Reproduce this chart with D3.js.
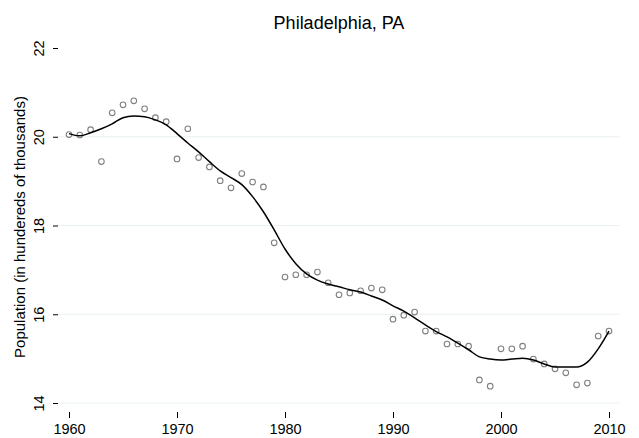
<!DOCTYPE html>
<html><head><meta charset="utf-8">
<script src="https://cdn.jsdelivr.net/npm/d3@7"></script>
<style>body{margin:0;background:#fff}svg{display:block}text{font-family:"Liberation Sans",Arial,Helvetica,sans-serif}</style>
</head><body>
<script>
const years = d3.range(1960, 2011);
const population = [20.05,20.04,20.16,19.44,20.54,20.72,20.81,20.63,20.43,20.34,
  19.50,20.18,19.53,19.32,19.01,18.85,19.17,18.98,18.87,17.61,
  16.84,16.89,16.89,16.95,16.71,16.44,16.48,16.53,16.59,16.55,
  15.89,15.98,16.05,15.62,15.62,15.33,15.33,15.28,14.52,14.38,
  15.22,15.22,15.28,14.99,14.88,14.77,14.68,14.41,14.45,15.51,15.62];
const smooth = [20.07,20.02,20.09,20.18,20.29,20.43,20.47,20.45,20.38,20.27,
  20.07,19.86,19.66,19.44,19.23,19.08,18.92,18.65,18.31,17.90,
  17.47,17.14,16.91,16.77,16.68,16.62,16.55,16.50,16.41,16.32,
  16.19,16.07,15.92,15.76,15.61,15.49,15.35,15.20,15.04,14.99,
  14.97,14.99,15.01,14.97,14.88,14.81,14.81,14.81,14.92,15.22,15.62];
const xTicks = [1960,1970,1980,1990,2000,2010];
const yTicks = [14,16,18,20,22];
const gridTicks = [14,16,18,20];
const title = "Philadelphia, PA";
const yTitle = "Population (in hundereds of thousands)";

const W = 639, H = 438;
const svg = d3.select("body").append("svg").attr("width", W).attr("height", H);
const x = d3.scaleLinear().domain([1960, 2010]).range([69, 609]);
const y = d3.scaleLinear().domain([14, 22]).range([403, 48]);
const plotL = 58, plotR = 620;

svg.append("g").selectAll("line").data(gridTicks).join("line")
  .attr("x1", plotL).attr("x2", plotR)
  .attr("y1", d => y(d)).attr("y2", d => y(d))
  .attr("stroke", "#eaf2f3").attr("stroke-width", 1);

// y axis
const yAxis = svg.append("g").attr("transform", `translate(${plotL},0)`)
  .call(d3.axisLeft(y).tickValues(yTicks).tickSize(5).tickPadding(0).tickFormat(d3.format("d")));
yAxis.select(".domain").remove();
yAxis.selectAll(".tick line").attr("stroke", "#000");
yAxis.selectAll(".tick text").attr("font-size", 14.5).attr("fill", "#000")
  .attr("text-anchor", "middle").attr("x", 0).attr("dy", 0)
  .attr("transform", "translate(-14,0) rotate(-90)");

// x axis
const xAxis = svg.append("g").attr("transform", `translate(0,412)`)
  .call(d3.axisBottom(x).tickValues(xTicks).tickSize(6).tickPadding(6).tickFormat(d3.format("d")));
xAxis.select(".domain").remove();
xAxis.selectAll(".tick line").attr("stroke", "#000");
xAxis.selectAll(".tick text").attr("font-size", 14.5).attr("fill", "#000");

// points
svg.append("g").selectAll("circle").data(years).join("circle")
  .attr("cx", (d) => x(d)).attr("cy", (d, i) => y(population[i])).attr("r", 2.8)
  .attr("fill", "none").attr("stroke", "#808080").attr("stroke-width", 1.1);

// smooth line
const line = d3.line().x(d => x(d)).y((d, i) => y(smooth[i])).curve(d3.curveMonotoneX);
svg.append("path").datum(years).attr("d", line)
  .attr("fill", "none").attr("stroke", "#000").attr("stroke-width", 1.5);

svg.append("text").attr("x", 339).attr("y", 29).attr("text-anchor", "middle")
  .attr("font-size", 18).attr("fill", "#000").text(title);
svg.append("text").attr("transform", "translate(25,227) rotate(-90)")
  .attr("text-anchor", "middle").attr("font-size", 15).attr("fill", "#000").text(yTitle);
</script>
</body></html>
